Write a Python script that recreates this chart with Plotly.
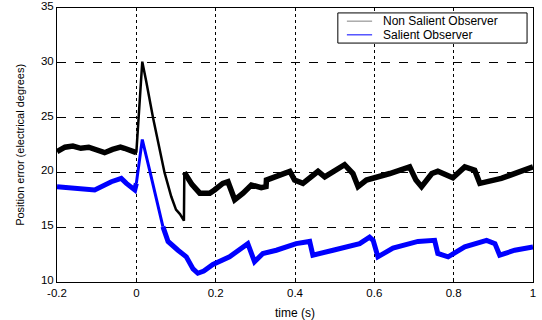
import plotly.graph_objects as go

# Non Salient Observer (black)
t_ns = [-0.2, -0.18, -0.16, -0.14, -0.12, -0.10, -0.09, -0.08, -0.06, -0.04, -0.03, -0.01, 0.0,
        0.004, 0.015, 0.025, 0.042, 0.071, 0.088, 0.10, 0.11, 0.12, 0.121, 0.14, 0.16, 0.185,
        0.197, 0.218, 0.231, 0.248, 0.269, 0.29, 0.315, 0.327, 0.328, 0.361, 0.387, 0.399, 0.42,
        0.458, 0.475, 0.525, 0.546, 0.559, 0.58, 0.639, 0.689, 0.705, 0.719, 0.745, 0.76, 0.798,
        0.828, 0.853, 0.866, 0.92, 1.0]
y_ns = [21.9, 22.3, 22.4, 22.2, 22.3, 22.1, 21.9, 21.8, 22.1, 22.3, 22.2, 22.0, 21.8,
        24.3, 30.1, 28.3, 25.0, 20.0, 17.8, 16.6, 16.2, 15.6, 20.0, 18.9, 18.1, 18.1,
        18.4, 19.0, 19.15, 17.5, 18.1, 18.85, 18.6, 18.7, 19.3, 19.7, 20.1, 19.3, 19.0,
        20.1, 19.6, 20.7, 19.9, 18.7, 19.3, 19.9, 20.5, 19.3, 18.7, 19.9, 20.1, 19.5,
        20.5, 20.2, 19.0, 19.45, 20.5]

# Salient Observer (blue)
t_s = [-0.2, -0.156, -0.105, -0.063, -0.038, -0.025, -0.004, 0.0, 0.015, 0.0335, 0.05, 0.067,
       0.08, 0.105, 0.126, 0.143, 0.155, 0.17, 0.193, 0.235, 0.281, 0.298, 0.319, 0.353, 0.403,
       0.437, 0.445, 0.496, 0.563, 0.588, 0.597, 0.609, 0.647, 0.71, 0.752, 0.76, 0.786, 0.828,
       0.883, 0.904, 0.916, 0.954, 1.0]
y_s = [18.7, 18.6, 18.4, 19.15, 19.45, 19.0, 18.4, 19.0, 23.0, 20.2, 17.8, 15.05,
       13.7, 12.9, 12.3, 11.2, 10.8, 11.0, 11.6, 12.3, 13.5, 11.85, 12.6, 12.9, 13.5,
       13.7, 12.45, 12.9, 13.5, 14.1, 13.8, 12.3, 13.1, 13.7, 13.8, 12.6, 12.3, 13.2,
       13.8, 13.5, 12.45, 12.9, 13.2]

x_ticks = [-0.2, 0, 0.2, 0.4, 0.6, 0.8, 1]
x_labels = ["-0.2", "0", "0.2", "0.4", "0.6", "0.8", "1"]
y_ticks = [10, 15, 20, 25, 30, 35]
series_names = ["Non Salient Observer", "Salient Observer"]

FONT = "Liberation Sans, Arial, sans-serif"


def split(t, y, t0, t1):
    """Split a series into pre / transient / post parts (sharing endpoints)."""
    pre = [(a, b) for a, b in zip(t, y) if a <= t0]
    mid = [(a, b) for a, b in zip(t, y) if t0 <= a <= t1]
    post = [(a, b) for a, b in zip(t, y) if a >= t1]
    return pre, mid, post


fig = go.Figure()
for (t, y, color, t1, wide, thin) in [
    (t_ns, y_ns, "black", 0.121, 5.5, 2.5),
    (t_s, y_s, "#0000ff", 0.067, 5.0, 3.0),
]:
    pre, mid, post = split(t, y, 0.0, t1)
    for part, w in ((pre, wide), (mid, thin), (post, wide)):
        fig.add_trace(go.Scatter(x=[p[0] for p in part], y=[p[1] for p in part], mode="lines",
                                 line=dict(color=color, width=w), showlegend=False,
                                 hoverinfo="skip"))

# Legend drawn as a compact box (paper coordinates)
lx0, lx1, ly0, ly1 = 0.59, 0.9875, 0.872, 0.982
fig.add_shape(type="rect", xref="paper", yref="paper", x0=lx0, x1=lx1, y0=ly0, y1=ly1,
              line=dict(color="black", width=1), fillcolor="white", layer="above")
for i, (name, col) in enumerate(zip(series_names, ["#808080", "#0000ff"])):
    yy = 0.952 - i * 0.05
    fig.add_shape(type="line", xref="paper", yref="paper", x0=0.609, x1=0.662, y0=yy, y1=yy,
                  line=dict(color=col, width=1), layer="above")
    fig.add_annotation(x=0.682, y=yy, xref="paper", yref="paper", text=name, showarrow=False,
                       xanchor="left", yanchor="middle", font=dict(size=12, family=FONT),
                       borderpad=0)

fig.add_annotation(x=0.5, y=-0.08, xref="paper", yref="paper", text="time (s)",
                   showarrow=False, xanchor="center", yanchor="top",
                   font=dict(size=12, family=FONT))
fig.add_annotation(x=-0.078, y=0.5, xref="paper", yref="paper",
                   text="Position error (electrical degrees)", textangle=-90,
                   showarrow=False, xanchor="center", yanchor="middle",
                   font=dict(size=11, family=FONT))

fig.update_layout(
    width=542, height=320,
    margin=dict(l=57, r=9, t=8, b=38, autoexpand=False),
    paper_bgcolor="white", plot_bgcolor="white",
    font=dict(family=FONT, size=11.5, color="black"),
    showlegend=False,
    xaxis=dict(range=[-0.2, 1], tickvals=x_ticks, ticktext=x_labels, automargin=False,
               showline=True, linecolor="black", linewidth=1, mirror=True,
               ticks="inside", ticklen=4, tickcolor="black",
               showgrid=True, gridcolor="black", gridwidth=1, griddash="dot",
               zeroline=False),
    yaxis=dict(range=[10, 35], tickvals=y_ticks, automargin=False,
               showline=True, linecolor="black", linewidth=1, mirror=True,
               ticks="inside", ticklen=4, tickcolor="black", ticklabelshift=-2,
               showgrid=True, gridcolor="black", gridwidth=1, griddash="dash",
               zeroline=False),
)

fig.write_html("out.html")
